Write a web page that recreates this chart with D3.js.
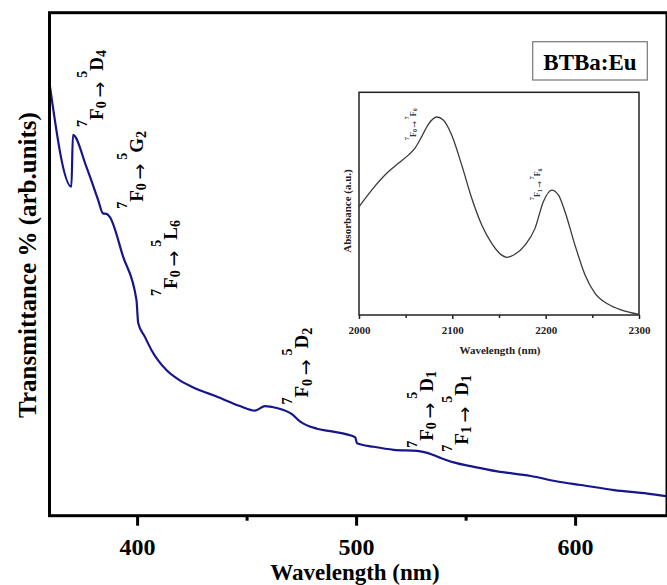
<!DOCTYPE html>
<html>
<head>
<meta charset="utf-8">
<script src="https://cdn.jsdelivr.net/npm/d3@7"></script>
<style>
  html, body { margin: 0; padding: 0; background: #fff; }
  svg { display: block; }
  text { font-family: "Liberation Serif", "Times New Roman", serif; font-weight: bold; }
  tspan.arrow { font-family: "DejaVu Sans", sans-serif; font-weight: normal; }
</style>
</head>
<body>
<svg id="chart" width="667" height="585"></svg>
<script>
// Transmittance spectrum of BTBa:Eu (main panel)
const wavelength = [360.0, 370.0, 370.7, 376.8, 382.2, 384.4, 386.0, 387.5, 393.6, 399.7,
  400.5, 403.5, 406.6, 413.5, 419.5, 427.2, 436.3, 447.0, 453.8, 458.4, 463.8, 470.7,
  474.5, 482.1, 488.2, 499.6, 500.4, 508.0, 517.2, 527.9, 532.5, 538.5, 544.6, 553.8,
  564.5, 579.7, 591.9, 602.6, 617.8, 633.1, 641.5];
const transmittance = [86.0, 65.4, 75.7, 69.4, 62.8, 60.1, 60.0, 59.4, 51.5, 42.9,
  38.3, 35.6, 32.9, 28.9, 26.9, 25.2, 23.7, 21.8, 20.9, 21.8, 21.4, 20.2,
  18.7, 17.3, 16.8, 15.6, 14.4, 13.7, 13.1, 12.9, 12.5, 11.5, 10.6, 9.7,
  8.8, 7.9, 6.8, 6.1, 5.1, 4.4, 3.9];
const xTicksMajor = [400, 500, 600];
const xTicksMinor = [450, 550];

// Near-infrared absorbance (inset)
const nirWavelength = [2000, 2013.6, 2031.4, 2042.1, 2052.8, 2060, 2067.2, 2074.3, 2083.3,
  2090.3, 2099.3, 2110, 2120.8, 2131.5, 2142.2, 2152.9, 2158.3, 2167.1, 2177.9, 2188.6,
  2197.5, 2206.5, 2213.6, 2220.7, 2231.4, 2242.2, 2252.9, 2267.1, 2281.5, 2300];
const absorbance = [0.486, 0.561, 0.643, 0.681, 0.718, 0.749, 0.801, 0.856, 0.889,
  0.876, 0.808, 0.674, 0.524, 0.404, 0.322, 0.269, 0.259, 0.273, 0.314, 0.389,
  0.509, 0.561, 0.539, 0.464, 0.314, 0.180, 0.097, 0.048, 0.022, 0.003];
const nirTicksMajor = [2000, 2100, 2200, 2300];
const nirTicksMinor = [2050, 2150, 2250];

// Eu3+ transitions: [lower sup, lower term, lower sub, upper sup, upper term, upper sub]
const transitions = [
  ["7", "F", "0", "5", "D", "4"],
  ["7", "F", "0", "5", "G", "2"],
  ["7", "F", "0", "5", "L", "6"],
  ["7", "F", "0", "5", "D", "2"],
  ["7", "F", "0", "5", "D", "1"],
  ["7", "F", "1", "5", "D", "1"]
];
// where each label starts: [wavelength, transmittance]
const transitionAt = [[384.4, 77.3], [402.6, 61.0], [418.2, 43.7], [478.1, 22.1], [534.9, 13.5], [550.9, 12.7]];

const nirTransitions = [
  ["7", "F", "0", "7", "F", "6"],
  ["7", "F", "1", "7", "F", "6"]
];
const nirTransitionAt = [[2061, 0.786], [2194, 0.516]];

const sampleName = "BTBa:Eu";

const svg = d3.select("#chart");

const x = d3.scaleLinear().domain([360, 641.5]).range([49.5, 666]);
const y = d3.scaleLinear().domain([0, 100]).range([515.7, 12.7]);

// bottom axis: major ticks with labels, minor ticks without
const axMajor = svg.append("g").attr("transform", "translate(0,515.7)")
  .call(d3.axisBottom(x).tickValues(xTicksMajor).tickSize(10).tickSizeOuter(0).tickPadding(12));
const axMinor = svg.append("g").attr("transform", "translate(0,515.7)")
  .call(d3.axisBottom(x).tickValues(xTicksMinor).tickSize(5).tickSizeOuter(0).tickFormat(""));
[axMajor, axMinor].forEach(a => {
  a.select(".domain").remove();
  a.selectAll(".tick line").attr("stroke", "#000").attr("stroke-width", 3);
});
axMajor.selectAll(".tick text")
  .attr("font-size", 24).attr("fill", "#000")
  .attr("font-family", "Liberation Serif, Times New Roman, serif")
  .attr("font-weight", "bold");

// spectrum
const line = d3.line().x(d => x(d[0])).y(d => y(d[1])).curve(d3.curveMonotoneX);
svg.append("path")
  .datum(wavelength.map((w, i) => [w, transmittance[i]]))
  .attr("d", line)
  .attr("fill", "none")
  .attr("stroke", "#16168a")
  .attr("stroke-width", 2.2)
  .attr("stroke-linejoin", "round");

// frame
svg.append("rect")
  .attr("x", x.range()[0]).attr("y", y.range()[1])
  .attr("width", x.range()[1] - x.range()[0] + 1)
  .attr("height", y.range()[0] - y.range()[1])
  .attr("fill", "none").attr("stroke", "#000").attr("stroke-width", 3);

// axis titles
svg.append("text")
  .attr("x", 355).attr("y", 580)
  .attr("text-anchor", "middle").attr("font-size", 23)
  .text("Wavelength (nm)");
svg.append("text")
  .attr("transform", "translate(36,265) rotate(-90)")
  .attr("text-anchor", "middle").attr("font-size", 25)
  .text("Transmittance % (arb.units)");

// rotated term-symbol label, e.g. 7F0 → 5D4
function termLabel(parent, px, py, t, big, small, supShift, subShift) {
  const txt = parent.append("text")
    .attr("transform", `translate(${px},${py}) rotate(-90)`)
    .attr("fill", "#000");
  const parts = [
    [t[0], small, -supShift], [t[1], big, 0], [t[2], small, subShift],
    ["\u2009\u2192\u2009", big, subShift, "arrow"],
    [t[3], small, -supShift], [t[4], big, 0], [t[5], small, subShift]
  ];
  let cur = 0;
  parts.forEach(([s, size, off, cls]) => {
    const ts = txt.append("tspan").attr("font-size", size).attr("dy", off - cur).text(s);
    if (cls) ts.attr("class", cls);
    cur = off;
  });
  return txt;
}

const labels = svg.append("g");
transitions.forEach((t, i) => {
  const [w, v] = transitionAt[i];
  termLabel(labels, x(w), y(v), t, 19, 14, 16, 3.5);
});

// legend box
const lg = svg.append("g");
lg.append("rect")
  .attr("x", 532.7).attr("y", 41.7).attr("width", 114.6).attr("height", 38.3)
  .attr("fill", "#fff").attr("stroke", "#777").attr("stroke-width", 1.2);
lg.append("text")
  .attr("x", 590).attr("y", 70).attr("text-anchor", "middle")
  .attr("font-size", 23).text(sampleName);

// inset: NIR absorbance
const ix = d3.scaleLinear().domain([2000, 2300]).range([359, 639]);
const iy = d3.scaleLinear().domain([0, 1]).range([315, 92.3]);
const inset = svg.append("g");

inset.append("rect")
  .attr("x", ix.range()[0]).attr("y", iy.range()[1])
  .attr("width", ix.range()[1] - ix.range()[0])
  .attr("height", iy.range()[0] - iy.range()[1])
  .attr("fill", "#fff").attr("stroke", "#222").attr("stroke-width", 1.5);

const iaMajor = inset.append("g").attr("transform", `translate(0,${iy.range()[0]})`)
  .call(d3.axisBottom(ix).tickValues(nirTicksMajor).tickSize(4).tickSizeOuter(0)
    .tickPadding(7).tickFormat(d3.format("d")));
const iaMinor = inset.append("g").attr("transform", `translate(0,${iy.range()[0]})`)
  .call(d3.axisBottom(ix).tickValues(nirTicksMinor).tickSize(3).tickSizeOuter(0).tickFormat(""));
[iaMajor, iaMinor].forEach(a => {
  a.select(".domain").remove();
  a.selectAll(".tick line").attr("stroke", "#222").attr("stroke-width", 1.5);
});
iaMajor.selectAll(".tick text")
  .attr("font-size", 11).attr("fill", "#222")
  .attr("font-family", "Liberation Serif, Times New Roman, serif")
  .attr("font-weight", "bold");

const iline = d3.line().x(d => ix(d[0])).y(d => iy(d[1])).curve(d3.curveMonotoneX);
inset.append("path")
  .datum(nirWavelength.map((w, i) => [w, absorbance[i]]))
  .attr("d", iline)
  .attr("fill", "none").attr("stroke", "#3a3a3a").attr("stroke-width", 1.3);

inset.append("text")
  .attr("x", 500).attr("y", 354).attr("text-anchor", "middle")
  .attr("font-size", 11).attr("fill", "#222").text("Wavelength (nm)");
inset.append("text")
  .attr("transform", "translate(351,211) rotate(-90)")
  .attr("text-anchor", "middle").attr("font-size", 11).attr("fill", "#222")
  .text("Absorbance (a.u.)");

nirTransitions.forEach((t, i) => {
  const [w, v] = nirTransitionAt[i];
  termLabel(inset, ix(w), iy(v), t, 8, 6, 6.5, 1.5).attr("fill", "#333");
});
</script>
</body>
</html>
